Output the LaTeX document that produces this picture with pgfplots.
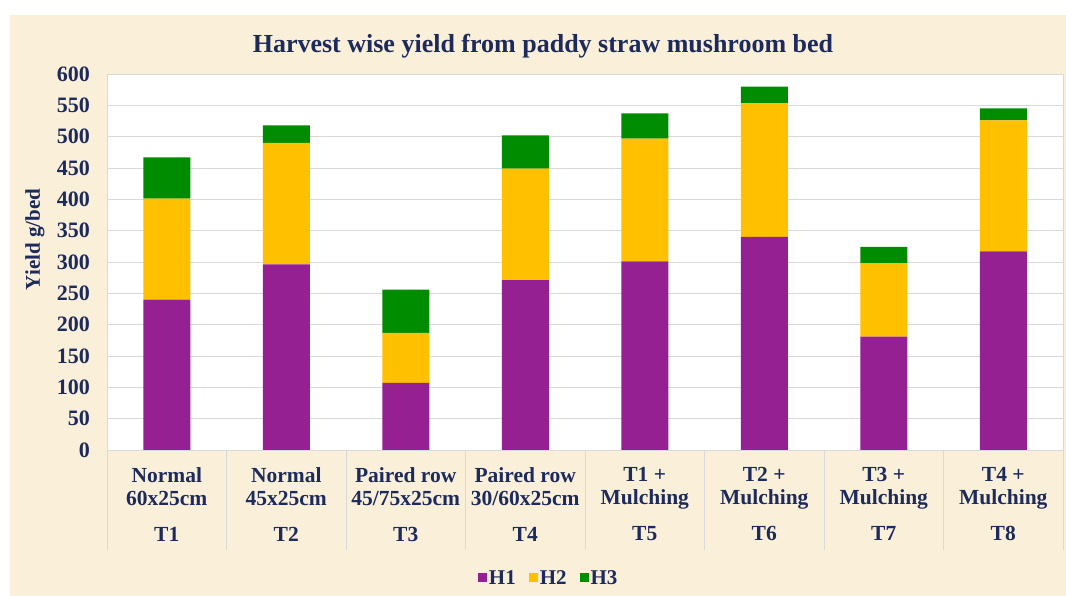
\documentclass[border=0pt]{standalone}
\usepackage{fontspec}
\setmainfont{Liberation Serif}
\usepackage{pgfplots}
\pgfplotsset{compat=1.18}
\definecolor{bgc}{HTML}{FAF0DA}
\definecolor{navy}{HTML}{1C2A5C}
\definecolor{gridc}{HTML}{D9D9D9}
\definecolor{hone}{HTML}{952092}
\definecolor{htwo}{HTML}{FFC000}
\definecolor{hthree}{HTML}{008C00}
\begin{document}
\begin{tikzpicture}[x=1bp,y=1bp]
\fill[white] (0,0) rectangle (1066,596);
\fill[bgc] (10,0) rectangle (1066,581);
\useasboundingbox (0,0) rectangle (1066,596);
\node[anchor=base, text=navy, font=\fontsize{26bp}{30bp}\selectfont\bfseries] at (543,543) {Harvest wise yield from paddy straw mushroom bed};
\begin{axis}[
  at={(107bp,146bp)}, anchor=south west,
  scale only axis, width=956bp, height=376bp,
  axis background/.style={fill=white},
  ybar stacked, bar width=47bp,
  xmin=-0.5, xmax=7.5, ymin=0, ymax=600,
  ytick={0,50,...,600},
  ymajorgrids, grid style={draw=gridc, line width=0.8bp},
  axis line style={draw=gridc, line width=0.8bp},
  major tick length=0pt,
  xtick pos=lower,
  xtick={0,...,7},
  xticklabels={{Normal\\60x25cm\\[13bp]T1},{Normal\\45x25cm\\[13bp]T2},{Paired row\\45/75x25cm\\[13bp]T3},{Paired row\\30/60x25cm\\[13bp]T4},{T1 +\\Mulching\\[13bp]T5},{T2 +\\Mulching\\[13bp]T6},{T3 +\\Mulching\\[13bp]T7},{T4 +\\Mulching\\[13bp]T8}},
  extra x ticks={-0.5,0.5,...,7.5},
  extra x tick labels={},
  extra x tick style={grid=none, major tick length=100bp, tick align=outside, tick style={draw=gridc, line width=0.8bp}},
  xticklabel style={align=center, inner sep=0pt, yshift=-17bp, text=navy, font=\fontsize{21.5bp}{23bp}\selectfont\bfseries},
  yticklabel style={inner sep=0pt, xshift=-17bp, text=navy, font=\fontsize{22bp}{24bp}\selectfont\bfseries},
  /pgf/number format/assume math mode=true,
  every axis y label/.style={at={(axis description cs:0,0.56)}, rotate=90, anchor=center, yshift=72bp},
  ylabel={Yield g/bed},
  ylabel style={text=navy, font=\fontsize{21bp}{24bp}\selectfont\bfseries},
  legend style={at={(axis description cs:0.462,-0.340)}, anchor=center, legend columns=3, draw=none, fill=none, text=navy, font=\fontsize{21bp}{22bp}\selectfont\bfseries, /tikz/every even column/.append style={column sep=12bp}, nodes={inner sep=1.5bp}},
  legend image code/.code={\fill[#1] (0bp,-4.5bp) rectangle (9bp,4.5bp);},
]
\addplot[fill=hone, draw=none] coordinates {(0,240) (1,296) (2,107) (3,271) (4,301) (5,340) (6,181) (7,317)};
\addplot[fill=htwo, draw=none] coordinates {(0,161) (1,194) (2,80) (3,178) (4,196) (5,213) (6,117) (7,209)};
\addplot[fill=hthree, draw=none] coordinates {(0,66) (1,28) (2,69) (3,53) (4,40) (5,27) (6,26) (7,19)};
\legend{H1,H2,H3}
\end{axis}
\end{tikzpicture}
\end{document}
